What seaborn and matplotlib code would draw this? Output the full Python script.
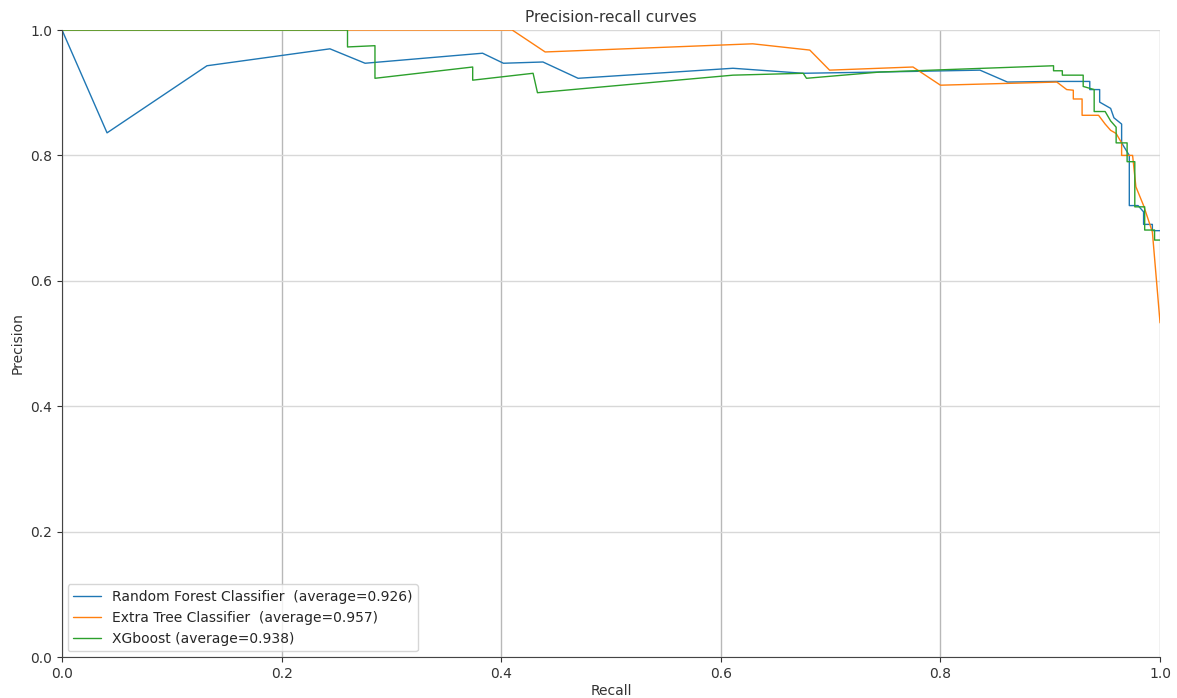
import matplotlib
matplotlib.use("Agg")
import matplotlib.pyplot as plt
import seaborn as sns
import pandas as pd

# Precision-recall points (recall, precision) for each classifier
rf_recall = [0.0, 0.041, 0.132, 0.244, 0.276, 0.383, 0.402, 0.438, 0.470, 0.611, 0.675,
             0.745, 0.836, 0.861, 0.905, 0.936, 0.936, 0.945, 0.945, 0.955, 0.958, 0.965,
             0.965, 0.972, 0.972, 0.980, 0.985, 0.985, 0.993, 0.993, 1.0]
rf_precision = [1.0, 0.836, 0.943, 0.970, 0.947, 0.963, 0.947, 0.949, 0.923, 0.939, 0.931,
                0.933, 0.936, 0.917, 0.918, 0.918, 0.905, 0.905, 0.885, 0.875, 0.860, 0.850,
                0.820, 0.800, 0.720, 0.720, 0.710, 0.690, 0.690, 0.680, 0.680]

et_recall = [0.0, 0.41, 0.44, 0.629, 0.681, 0.699, 0.775, 0.800, 0.906, 0.915, 0.921,
             0.921, 0.929, 0.929, 0.944, 0.950, 0.955, 0.960, 0.965, 0.965, 0.975, 0.978,
             0.985, 0.993, 1.0]
et_precision = [1.0, 1.0, 0.965, 0.978, 0.968, 0.936, 0.941, 0.912, 0.917, 0.905, 0.904,
                0.890, 0.890, 0.864, 0.864, 0.850, 0.840, 0.835, 0.820, 0.800, 0.800, 0.750,
                0.720, 0.678, 0.533]

xgb_recall = [0.0, 0.26, 0.26, 0.285, 0.285, 0.374, 0.374, 0.429, 0.433, 0.611, 0.675,
              0.678, 0.745, 0.903, 0.903, 0.911, 0.911, 0.930, 0.930, 0.940, 0.940, 0.950,
              0.955, 0.960, 0.960, 0.970, 0.970, 0.977, 0.977, 0.986, 0.986, 0.995, 0.995, 1.0]
xgb_precision = [1.0, 1.0, 0.973, 0.975, 0.923, 0.941, 0.920, 0.931, 0.900, 0.928, 0.931,
                 0.923, 0.933, 0.943, 0.935, 0.935, 0.928, 0.928, 0.910, 0.905, 0.870, 0.870,
                 0.855, 0.845, 0.820, 0.820, 0.790, 0.790, 0.718, 0.718, 0.681, 0.681, 0.665, 0.665]

labels = ["Random Forest Classifier  (average=0.926)",
          "Extra Tree Classifier  (average=0.957)",
          "XGboost (average=0.938)"]
colors = ["#1f77b4", "#ff7f0e", "#2ca02c"]

sns.set_style("ticks")
plt.rcParams["font.family"] = ["DejaVu Sans"]

fig = plt.figure(figsize=(11.77, 6.98), dpi=100)
ax = fig.add_axes([0.0527, 0.0587, 0.9329, 0.8983])

curves = [(rf_recall, rf_precision), (et_recall, et_precision), (xgb_recall, xgb_precision)]
for (r, p), lab, c in zip(curves, labels, colors):
    df = pd.DataFrame({"Recall": r, "Precision": p})
    sns.lineplot(data=df, x="Recall", y="Precision", sort=False, estimator=None,
                 color=c, linewidth=1.0, label=lab, ax=ax)

ax.set_xlim(0, 1)
ax.set_ylim(0, 1)
ax.set_xticks([0.0, 0.2, 0.4, 0.6, 0.8, 1.0])
ax.set_yticks([0.0, 0.2, 0.4, 0.6, 0.8, 1.0])
ax.xaxis.grid(True, color="#b8b8b8", linewidth=1.0)
ax.yaxis.grid(True, color="#d8d8d8", linewidth=1.0)
ax.set_axisbelow(True)
sns.despine(ax=ax)
for s in ["left", "bottom"]:
    ax.spines[s].set_color("#444444")
ax.tick_params(labelsize=10, colors="#333333")
ax.set_xlabel("Recall", fontsize=10, color="#333333", labelpad=2)
ax.set_ylabel("Precision", fontsize=10, color="#333333")
ax.set_title("Precision-recall curves", fontsize=11, color="#333333", pad=6)
ax.legend(loc="lower left", fontsize=10, frameon=True, borderaxespad=0.4)

fig.savefig("out.png", dpi=100)
